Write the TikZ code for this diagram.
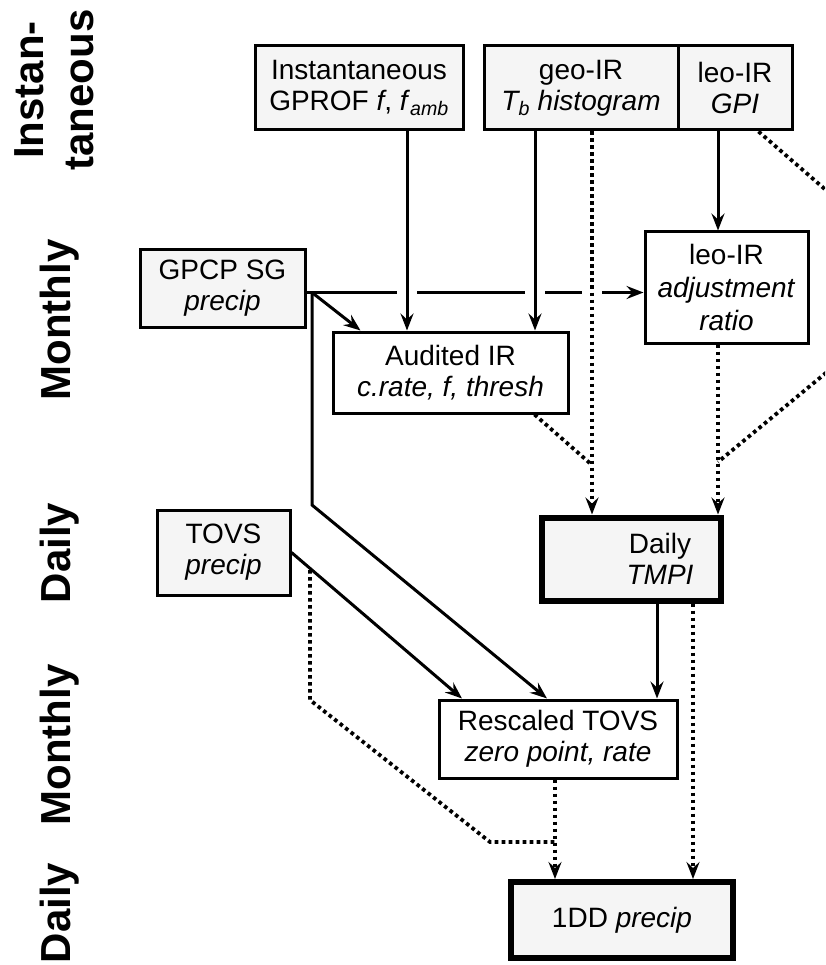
\documentclass[tikz,border=0pt]{standalone}
\usepackage{fontspec}
\setmainfont{Liberation Sans}
\usetikzlibrary{arrows.meta,calc}
\begin{document}
\begin{tikzpicture}[x=1pt,y=-1pt,
  box/.style={draw=black, line width=3pt, fill=white, align=center, inner sep=0pt, font=\fontsize{28}{31}\selectfont},
  spk/.style={box, fill=black!4},
  thickbox/.style={spk, line width=6pt},
  side/.style={rotate=90, font=\fontsize{42}{50}\selectfont\bfseries, align=center, inner sep=0pt},
  ln/.style={line width=3pt},
  arr/.style={ln, -{Stealth[length=17pt,width=13pt,inset=6pt]}},
  dotln/.style={line width=3.8pt, dash pattern=on 3.6pt off 3.4pt},
  dotarr/.style={dotln, -{Stealth[length=17pt,width=13pt,inset=6pt]}},
]
\useasboundingbox (0,0) rectangle (825,965);
\clip (0,0) rectangle (825,965);

% side labels
\node[side] (s1) at (54,90) {Instan-\\taneous};
\node[side] (s2) at (60,320) {Monthly};
\node[side] (s3) at (60,553) {Daily};
\node[side] (s4) at (60,745) {Monthly};
\node[side] (s5) at (60,913) {Daily};

% boxes
\node[spk, minimum width=208pt, minimum height=84pt] (gprof) at (359,88) {Instantaneous\\GPROF \textit{f}, \textit{f}\textsubscript{\textit{amb}}};
\node[spk, minimum width=194pt, minimum height=84pt] (geo) at (581,88) {geo-IR\\\textit{T\textsubscript{b} histogram}};
\node[spk, minimum width=114pt, minimum height=84pt] (leo) at (735,88) {leo-IR\\\textit{GPI}};
\node[spk, minimum width=165pt, minimum height=77pt] (sg) at (222.5,288.5) {GPCP SG\\\textit{precip}};
\node[box, minimum width=163pt, minimum height=111pt, font=\fontsize{28}{33}\selectfont] (adj) at (726.5,287.5) {leo-IR\\\textit{adjustment}\\\textit{ratio}};
\node[box, minimum width=235pt, minimum height=81pt] (aud) at (450.5,372.5) {Audited IR\\\textit{c.rate, f, thresh}};
\node[spk, minimum width=133pt, minimum height=85pt] (tovs) at (223.5,552.5) {TOVS\\\textit{precip}};
\node[thickbox, minimum width=179pt, minimum height=83pt] (tmpi) at (631,559) {\hspace*{58pt}Daily\\\hspace*{58pt}\textit{TMPI}};
\node[box, minimum width=238pt, minimum height=78pt] (resc) at (558,739) {Rescaled TOVS\\\textit{zero point, rate}};
\node[thickbox, minimum width=222pt, minimum height=76pt] (dd) at (622,920) {1DD \textit{precip}};

% column coordinates
\coordinate (c1) at (407,0);
\coordinate (c2) at (535,0);
\coordinate (c3) at (592,0);
\coordinate (c4) at (718,0);
\coordinate (c5) at (312,0);
\coordinate (c6) at (555,0);
\coordinate (c7) at (657,0);
\coordinate (c8) at (693,0);
\coordinate (c9) at (547,0);
\coordinate (c10) at (462,0);
\coordinate (hs) at ([yshift=-4pt]sg.east);
\coordinate (j1) at (592,465);
\coordinate (j2) at (718,462);
\coordinate (k1) at (312,505);
\coordinate (tb) at (310,570);

% GPCP SG -> leo-IR adjustment (with gaps at crossings)
\draw[arr] (hs) -- (hs -| adj.west);
\foreach \c in {c1,c2,c3}
  \fill[white] ($(hs -| \c)+(-10,-5)$) rectangle ($(hs -| \c)+(10,5)$);

% verticals from top row
\draw[arr] (gprof.south -| c1) -- (aud.north -| c1);
\draw[arr] (geo.south -| c2) -- (aud.north -| c2);
\draw[dotarr] (geo.south -| c3) -- (tmpi.north -| c3);
\draw[arr] (leo.south -| c4) -- (adj.north -| c4);
\draw[dotarr] (adj.south -| c4) -- (tmpi.north -| c4);

% dotted joins
\draw[dotln] ([xshift=-35pt]aud.south east) -- (j1);
\draw[dotln] ([xshift=-35pt]leo.south east) -- (850,211) -- (850,353) -- (j2);

% GPCP SG connectors
\draw[arr] (hs -| c5) -- ([xshift=29pt]aud.north west);
\draw[arr] (hs -| c5) -- (k1) -- (resc.north -| c9);

% TOVS connectors
\draw[arr] (tovs.east) -- (resc.north -| c10);
\draw[dotln] (tb) -- (310,700) -- (490,842) -- (c6 |- 0,842);
\draw[dotarr] (resc.south -| c6) -- (dd.north -| c6);

% TMPI connectors
\draw[arr] (tmpi.south -| c7) -- (resc.north -| c7);
\draw[dotarr] (tmpi.south -| c8) -- (dd.north -| c8);
\end{tikzpicture}
\end{document}
